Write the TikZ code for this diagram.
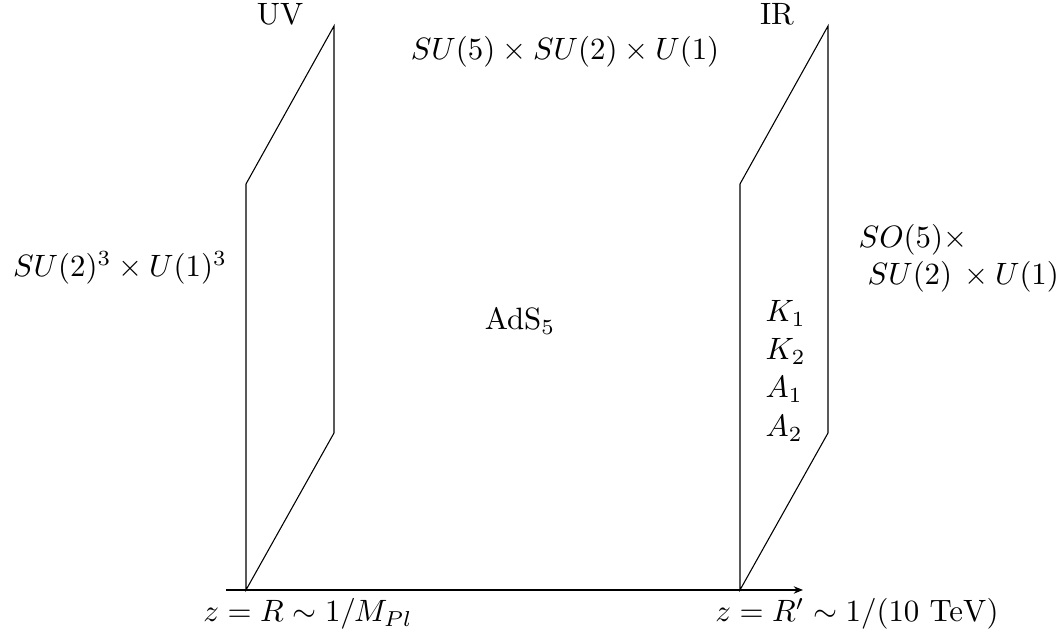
\documentclass[tikz,border=0pt]{standalone}
\usetikzlibrary{arrows.meta}
\begin{document}
\begin{tikzpicture}[x=0.324pt,y=-0.324pt,
  lbl/.style={inner sep=0pt, anchor=base},
  plane/.style={line width=0.35pt},
  axis/.style={line width=0.4pt,-{Stealth[length=3pt,width=2.4pt]}}]
\useasboundingbox (0,0) rectangle (1062,635);
% UV brane
\coordinate (uvA) at (246,590);
\coordinate (uvB) at (246,184);
\coordinate (uvC) at (334,26);
\coordinate (uvD) at (334,433);
\draw[plane] (uvA) -- (uvB) -- (uvC) -- (uvD) -- cycle;
% IR brane
\coordinate (irA) at (740,590);
\coordinate (irB) at (740,184);
\coordinate (irC) at (828,26);
\coordinate (irD) at (828,433);
\draw[plane] (irA) -- (irB) -- (irC) -- (irD) -- cycle;
% axis
\coordinate (ax0) at (226,590);
\coordinate (ax1) at (803,590);
\draw[axis] (ax0) -- (ax1);
% labels
\node[lbl] (uv) at (280,25) {UV};
\node[lbl] (ir) at (777,25) {IR};
\node[lbl] (bulk) at (565,60) {$SU(5)\times SU(2)\times U(1)$};
\node[lbl] (uvg) at (120,277) {$SU(2)^3\times U(1)^3$};
\node[lbl] (ads) at (520,330) {AdS$_5$};
\node[lbl,anchor=base west] (irg1) at (858,248) {$SO(5)\times$};
\node[lbl,anchor=base west] (irg2) at (867,285) {$SU(2)\,\times U(1)$};
\node[lbl,anchor=base west] (k1) at (765,322) {$K_1$};
\node[lbl,anchor=base west] (k2) at (765,360) {$K_2$};
\node[lbl,anchor=base west] (a1) at (765,398) {$A_1$};
\node[lbl,anchor=base west] (a2) at (765,437) {$A_2$};
\node[lbl] (zuv) at (308,622) {$z=R\sim 1/M_{Pl}$};
\node[lbl] (zir) at (857,622) {$z=R'\sim 1/(10\ \mathrm{TeV})$};
\end{tikzpicture}
\end{document}
